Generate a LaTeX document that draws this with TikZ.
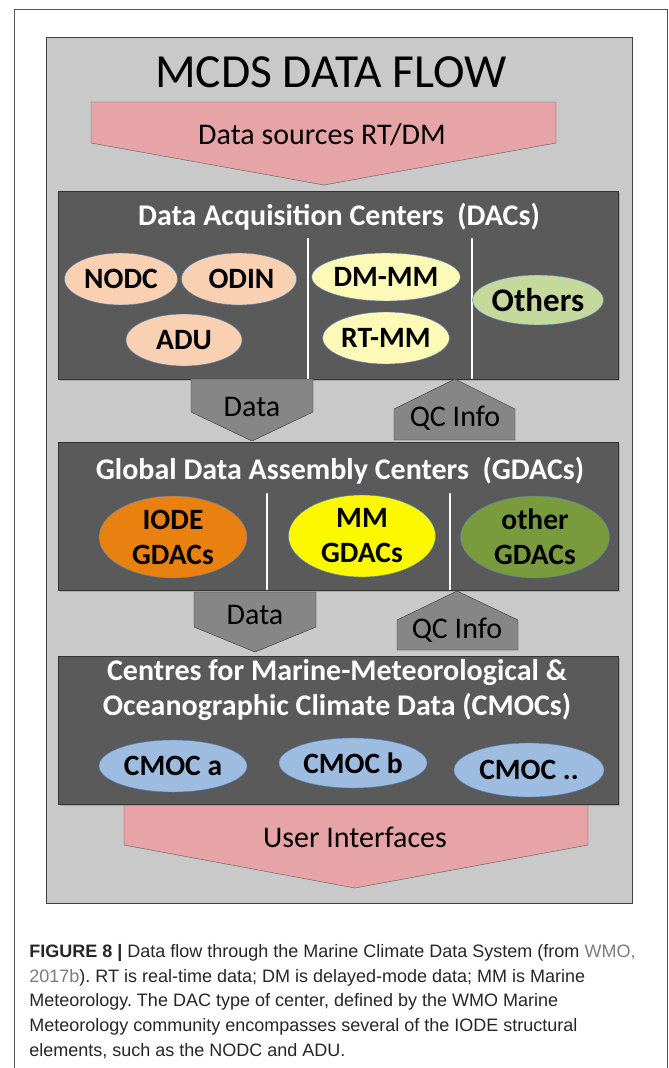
\documentclass[tikz,border=0pt]{standalone}
\usepackage{fontspec}
\setmainfont{Carlito}
\newfontfamily\capfont{Liberation Sans}
\usepackage{xcolor}
\usetikzlibrary{shapes,shadows}

\definecolor{panelgray}{HTML}{C9C9C9}
\definecolor{tiergray}{HTML}{5A5A5A}
\definecolor{arrowpink}{HTML}{E6A4A7}
\definecolor{arrowgray}{HTML}{868686}
\definecolor{ovalblue}{HTML}{4F81BD}
\definecolor{peach}{HTML}{F9D0B2}
\definecolor{paleyellow}{HTML}{FDF9B6}
\definecolor{palegreen}{HTML}{C6D99D}
\definecolor{iodeorange}{HTML}{E8810F}
\definecolor{mmyellow}{HTML}{FBF800}
\definecolor{olivegreen}{HTML}{7A9A3E}
\definecolor{cmocblue}{HTML}{9DBCE0}
\definecolor{linkgray}{HTML}{7C7C7C}
\definecolor{framegray}{HTML}{555555}

\begin{document}
\frenchspacing
\begin{tikzpicture}[x=1pt, y=-1pt, semithick]
  \tikzstyle{tier}=[rectangle, fill=tiergray, draw=black!80, inner sep=0pt, anchor=north west,
                    drop shadow={opacity=0.4, shadow xshift=1.5pt, shadow yshift=-1.5pt}]
  \tikzstyle{oval}=[ellipse, draw=ovalblue, thin, inner sep=0pt, text=black,
                    font=\fontsize{29.5}{35}\selectfont\bfseries, align=center]
  \tikzstyle{tiertitle}=[text=white, font=\fontsize{30}{35}\selectfont\bfseries, align=center]
  \tikzstyle{label}=[text=black, font=\fontsize{30}{34}\selectfont]
  \tikzstyle{bigarrow}=[fill=arrowpink, draw=black!65, thin]
  \tikzstyle{smallarrow}=[fill=arrowgray, draw=black!80, thin]
  \tikzstyle{divider}=[draw=white, line width=1.5pt]

  \useasboundingbox (0,0) rectangle (669,1068);
  \draw[framegray, thin] (14,1068) -- (14,9) -- (667,9) -- (667,1068);
  \draw[fill=panelgray, draw=black!75, line width=1pt] (46,37) rectangle (632,903);

  \node[font=\fontsize{47.5}{52}\selectfont]	(title)	at (331,72)	{MCDS DATA FLOW};

  % data sources
  \draw[bigarrow] (91,102) -- (556,102) -- (556,143) -- (324,185) -- (91,143) -- cycle;
  \node[label]	(sources)	at (322,135)	{Data sources RT/DM};

  % DACs
  \node[tier, minimum width=560pt, minimum height=188pt]	(dac)	at (58,191)	{};
  \node[tiertitle]	(dactitle)	at (339,217)	{Data Acquisition Centers\ \ (DACs)};
  \draw[divider] (308,238) -- (308,379);
  \draw[divider] (472,238) -- (472,379);
  \node[oval, fill=peach, minimum width=113pt, minimum height=52pt]	(nodc)	at (121,279)	{NODC};
  \node[oval, fill=peach, minimum width=115pt, minimum height=52pt]	(odin)	at (239,279)	{\,ODIN};
  \node[oval, fill=peach, minimum width=116pt, minimum height=52pt]	(adu)	at (184,340)	{ADU};
  \node[oval, fill=paleyellow, minimum width=117pt, minimum height=48pt]	(dmmm)	at (386,277)	{DM-MM};
  \node[oval, fill=paleyellow, minimum width=117pt, minimum height=52pt]	(rtmm)	at (386,338)	{RT-MM};
  \node[oval, fill=palegreen, minimum width=111pt, minimum height=50pt,
        font=\fontsize{33}{36}\selectfont\bfseries]	(others)	at (538,300)	{Others};

  % DAC -> GDAC
  \draw[smallarrow] (191,379) -- (313,379) -- (313,412) -- (252,441) -- (191,412) -- cycle;
  \node[label]	(data1)	at (252,407)	{Data};
  \draw[smallarrow] (394,440) -- (394,409) -- (455,379) -- (515,409) -- (515,440) -- cycle;
  \node[label]	(qc1)	at (455,418)	{QC Info};

  % GDACs
  \node[tier, minimum width=560pt, minimum height=148pt]	(gdac)	at (58,442)	{};
  \node[tiertitle]	(gdactitle)	at (340,471)	{Global Data Assembly Centers\ \ (GDACs)};
  \draw[divider] (267,493) -- (267,590);
  \draw[divider] (450,493) -- (450,590);
  \node[oval, fill=iodeorange, minimum width=148pt, minimum height=82pt]	(iode)	at (173,537)	{IODE\\GDACs};
  \node[oval, fill=mmyellow, minimum width=147pt, minimum height=82pt]	(mm)	at (362,536)	{MM\\GDACs};
  \node[oval, fill=olivegreen, minimum width=149pt, minimum height=82pt]	(othergdac)	at (535,537)	{other\\GDACs};

  % GDAC -> CMOC
  \draw[smallarrow] (194,592) -- (316,592) -- (316,627) -- (255,652) -- (194,627) -- cycle;
  \node[label]	(data2)	at (255,615)	{Data};
  \draw[smallarrow] (397,650) -- (397,620) -- (457,591) -- (518,620) -- (518,650) -- cycle;
  \node[label]	(qc2)	at (457,630)	{QC Info};

  % user interfaces (behind CMOC box)
  \draw[bigarrow] (124,800) -- (588,800) -- (588,845) -- (355,888) -- (124,845) -- cycle;
  \node[label]	(users)	at (355,837)	{User Interfaces};

  % CMOCs
  \node[tier, minimum width=560pt, minimum height=148pt]	(cmoc)	at (58,656)	{};
  \node[tiertitle]	(cmoctitle)	at (337,690)	{Centres for Marine-Meteorological \&\\Oceanographic Climate Data (CMOCs)};
  \node[oval, fill=cmocblue, minimum width=148pt, minimum height=52pt]	(cmoca)	at (173,766)	{CMOC a};
  \node[oval, fill=cmocblue, minimum width=148pt, minimum height=50pt]	(cmocb)	at (353,763)	{CMOC b};
  \node[oval, fill=cmocblue, minimum width=150pt, minimum height=54pt]	(cmocc)	at (529,770)	{CMOC ..};

  % caption
  \node[anchor=north west, align=left, inner sep=0pt, text=black!85,
        font=\capfont\fontsize{18}{24.8}\selectfont]	(caption)	at (29,944)
    {\textbf{FIGURE 8 |} Data flow through the Marine Climate Data System (from \textcolor{linkgray}{WMO,}\\
     \textcolor{linkgray}{2017b}). RT is real-time data; DM is delayed-mode data; MM is Marine\\
     Meteorology. The DAC type of center, defined by the WMO Marine\\
     Meteorology community encompasses several of the IODE structural\\
     elements, such as the NODC and ADU.};
\end{tikzpicture}
\end{document}
